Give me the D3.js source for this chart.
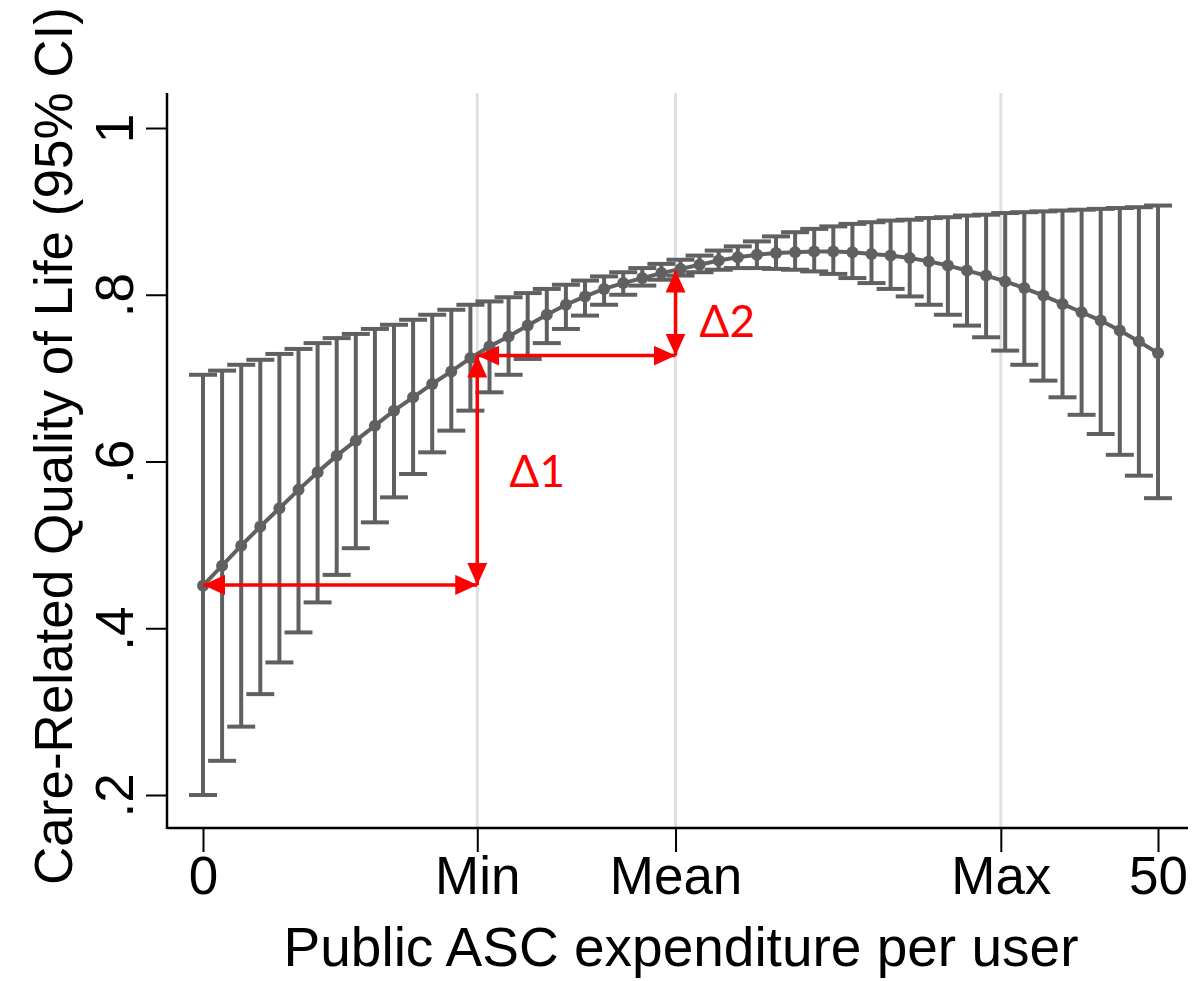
<!DOCTYPE html>
<html>
<head>
<meta charset="utf-8">
<script src="https://cdn.jsdelivr.net/npm/d3@7"></script>
<style>
  html, body { margin: 0; padding: 0; background: #fff; }
  svg { display: block; }
</style>
</head>
<body>
<svg id="chart" width="1193" height="981"></svg>
<script>
// ---- data ----
const spend = [0,1,2,3,4,5,6,7,8,9,10,11,12,13,14,15,16,17,18,19,20,21,22,23,24,25,26,27,28,29,30,31,32,33,34,35,36,37,38,39,40,41,42,43,44,45,46,47,48,49,50];
const estimate = [0.451,0.475,0.499,0.522,0.544,0.566,0.587,0.607,0.625,0.643,0.661,0.677,0.693,0.708,0.724,0.738,0.750,0.763,0.776,0.788,0.798,0.807,0.814,0.820,0.826,0.831,0.836,0.841,0.845,0.848,0.850,0.851,0.852,0.852,0.851,0.849,0.847,0.844,0.840,0.835,0.829,0.823,0.816,0.808,0.799,0.789,0.779,0.769,0.757,0.744,0.730];
const ciLower = [0.200,0.241,0.282,0.321,0.359,0.395,0.431,0.464,0.496,0.527,0.557,0.585,0.611,0.637,0.661,0.683,0.704,0.723,0.742,0.759,0.775,0.788,0.800,0.811,0.818,0.823,0.827,0.830,0.832,0.832,0.831,0.830,0.828,0.825,0.820,0.814,0.807,0.798,0.788,0.776,0.763,0.749,0.733,0.716,0.697,0.677,0.656,0.633,0.608,0.583,0.556];
const ciUpper = [0.704,0.709,0.716,0.722,0.729,0.735,0.742,0.748,0.753,0.759,0.764,0.770,0.776,0.782,0.788,0.792,0.797,0.802,0.807,0.812,0.817,0.822,0.827,0.832,0.837,0.842,0.847,0.853,0.858,0.864,0.870,0.875,0.879,0.882,0.885,0.887,0.889,0.890,0.892,0.893,0.895,0.896,0.898,0.899,0.900,0.901,0.902,0.903,0.904,0.905,0.907];

const xTickValues = [0, 14.36, 24.74, 41.77, 50];
const xTickLabels = ["0", "Min", "Mean", "Max", "50"];
const gridValues = [14.36, 24.74, 41.77];
const yTickValues = [0.2, 0.4, 0.6, 0.8, 1];
const yTickLabels = [".2", ".4", ".6", ".8", "1"];

const xTitle = "Public ASC expenditure per user";
const yTitle = "Care-Related Quality of Life (95% CI)";

// annotation values (data units)
const deltaX = [0, 14.36, 24.74];        // start, Min, Mean
const deltaY = [0.452, 0.727, 0.829];    // level at 0, at Min, at Mean
const deltaLabels = ["Δ1", "Δ2"];
const deltaLabelX = [16.05, 26.0];
const deltaLabelY = [0.569, 0.749];

// ---- layout ----
const svg = d3.select("#chart");
const axisX0 = 167, axisY0 = 828, axisTop = 93, axisRight = 1188;
const x = d3.scaleLinear().domain([0, 50]).range([203, 1158]);
const y = d3.scaleLinear().domain([0.2, 1]).range([795, 128]);
const grey = "#606060";
const font = "'Liberation Sans', Arial, sans-serif";

const rows = spend.map((s, i) => ({ s, e: estimate[i], lo: ciLower[i], hi: ciUpper[i] }));

// gridlines
svg.append("g").selectAll("line").data(gridValues).join("line")
  .attr("x1", d => x(d)).attr("x2", d => x(d))
  .attr("y1", axisTop).attr("y2", axisY0)
  .attr("stroke", "#e1e1e1").attr("stroke-width", 3);

// error bars
const eb = svg.append("g").attr("stroke", grey).attr("stroke-width", 4).attr("fill", "none");
eb.selectAll("line.v").data(rows).join("line").attr("class", "v")
  .attr("x1", d => x(d.s)).attr("x2", d => x(d.s))
  .attr("y1", d => y(d.lo)).attr("y2", d => y(d.hi));
eb.selectAll("line.capl").data(rows).join("line").attr("class", "capl")
  .attr("x1", d => x(d.s) - 14).attr("x2", d => x(d.s) + 14)
  .attr("y1", d => y(d.lo)).attr("y2", d => y(d.lo));
eb.selectAll("line.caph").data(rows).join("line").attr("class", "caph")
  .attr("x1", d => x(d.s) - 14).attr("x2", d => x(d.s) + 14)
  .attr("y1", d => y(d.hi)).attr("y2", d => y(d.hi));

// line + markers
svg.append("path").datum(rows)
  .attr("d", d3.line().x(d => x(d.s)).y(d => y(d.e)))
  .attr("fill", "none").attr("stroke", grey).attr("stroke-width", 4);
svg.append("g").selectAll("circle").data(rows).join("circle")
  .attr("cx", d => x(d.s)).attr("cy", d => y(d.e)).attr("r", 6)
  .attr("fill", grey);

// axes
const xAxis = d3.axisBottom(x).tickValues(xTickValues)
  .tickFormat((d, i) => xTickLabels[i]).tickSize(24).tickSizeOuter(0).tickPadding(4);
const gx = svg.append("g").attr("transform", `translate(0,${axisY0})`).call(xAxis);
gx.select(".domain").remove();
gx.selectAll(".tick line").attr("stroke", "#000").attr("stroke-width", 2);
gx.selectAll(".tick text").attr("font-family", font).attr("font-size", 53)
  .attr("fill", "#000").attr("dy", "0.71em");

const yAxis = d3.axisLeft(y).tickValues(yTickValues)
  .tickFormat((d, i) => yTickLabels[i]).tickSize(21).tickSizeOuter(0);
const gy = svg.append("g").attr("transform", `translate(${axisX0},0)`).call(yAxis);
gy.select(".domain").remove();
gy.selectAll(".tick line").attr("stroke", "#000").attr("stroke-width", 2);
gy.selectAll(".tick text").attr("font-family", font).attr("font-size", 53)
  .attr("fill", "#000").attr("text-anchor", "middle")
  .attr("x", 0).attr("y", -34).attr("dy", 0).attr("transform", "rotate(-90)");

svg.append("line").attr("x1", axisX0).attr("x2", axisX0).attr("y1", axisTop).attr("y2", axisY0 + 1)
  .attr("stroke", "#000").attr("stroke-width", 2.5);
svg.append("line").attr("x1", axisX0).attr("x2", axisRight).attr("y1", axisY0).attr("y2", axisY0)
  .attr("stroke", "#000").attr("stroke-width", 2.5);

// titles
svg.append("text").attr("x", 681).attr("y", 966)
  .attr("text-anchor", "middle").attr("font-family", font).attr("font-size", 55)
  .text(xTitle);
svg.append("text").attr("transform", "translate(72,446) rotate(-90)")
  .attr("text-anchor", "middle").attr("font-family", font).attr("font-size", 53)
  .text(yTitle);

// annotations
const red = "#ff0000";
const defs = svg.append("defs");
defs.append("marker").attr("id", "ah").attr("viewBox", "0 0 22 20")
  .attr("refX", 22).attr("refY", 10).attr("markerWidth", 22).attr("markerHeight", 20)
  .attr("markerUnits", "userSpaceOnUse").attr("orient", "auto-start-reverse")
  .append("path").attr("d", "M0,0 L22,10 L0,20 Z").attr("fill", red);

const arrows = [
  { x1: deltaX[0], y1: deltaY[0], x2: deltaX[1], y2: deltaY[0] },
  { x1: deltaX[1], y1: deltaY[0], x2: deltaX[1], y2: deltaY[1] },
  { x1: deltaX[1], y1: deltaY[1], x2: deltaX[2], y2: deltaY[1] },
  { x1: deltaX[2], y1: deltaY[1], x2: deltaX[2], y2: deltaY[2] }
];
svg.append("g").selectAll("line").data(arrows).join("line")
  .attr("x1", d => x(d.x1)).attr("y1", d => y(d.y1))
  .attr("x2", d => x(d.x2)).attr("y2", d => y(d.y2))
  .attr("stroke", red).attr("stroke-width", 3.5)
  .attr("marker-start", "url(#ah)").attr("marker-end", "url(#ah)");

svg.append("g").selectAll("text").data(deltaLabels).join("text")
  .attr("x", (d, i) => x(deltaLabelX[i])).attr("y", (d, i) => y(deltaLabelY[i]))
  .attr("font-family", "Lato, 'Open Sans', sans-serif").attr("font-size", 44)
  .attr("fill", red).text(d => d);
</script>
</body>
</html>
